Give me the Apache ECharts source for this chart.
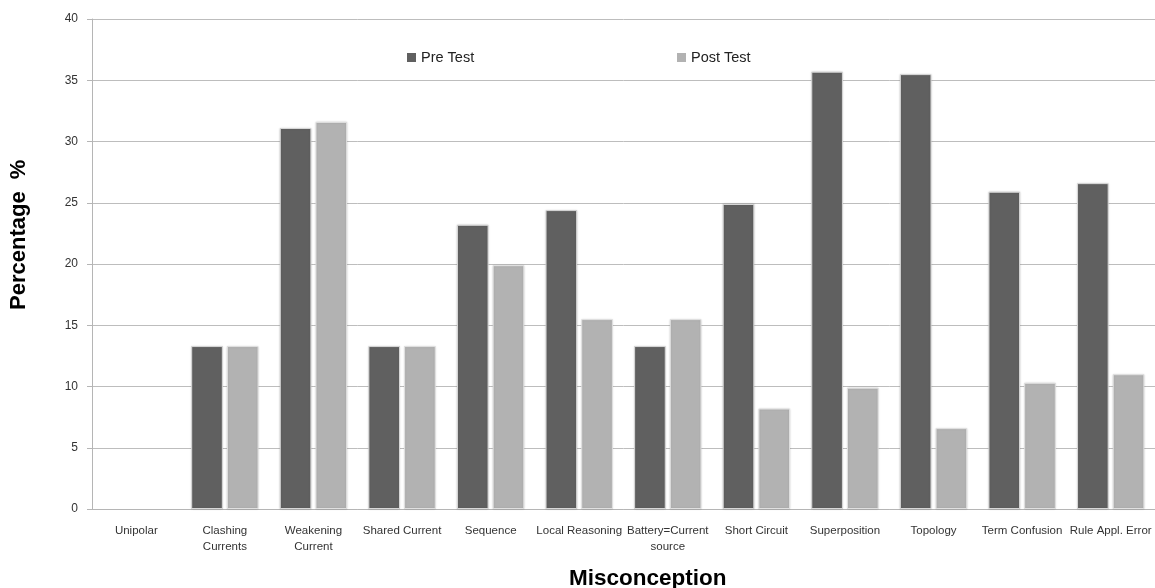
<!DOCTYPE html>
<html>
<head>
<meta charset="utf-8">
<script src="https://cdn.jsdelivr.net/npm/echarts@6/dist/echarts.min.js"></script>
<style>
html,body{margin:0;padding:0;background:#fff;}
#chart{width:1155px;height:588px;}
</style>
</head>
<body>
<div id="chart"></div>
<script>
const categories = ['Unipolar', 'Clashing\nCurrents', 'Weakening\nCurrent', 'Shared Current', 'Sequence', 'Local Reasoning', 'Battery=Current\nsource', 'Short Circuit', 'Superposition', 'Topology', 'Term Confusion', 'Rule Appl. Error'];
const preTest = [0, 13.3, 31.1, 13.3, 23.2, 24.4, 13.3, 24.9, 35.7, 35.5, 25.9, 26.6];
const postTest = [0, 13.3, 31.6, 13.3, 19.9, 15.5, 15.5, 8.2, 9.9, 6.6, 10.3, 11.0];
const yTicks = { min: 0, max: 40, interval: 5 };

function toItems(arr) {
  return arr.map(v => v === 0 ? { value: v, itemStyle: { borderWidth: 0, shadowBlur: 0 } } : v);
}

const chart = echarts.init(document.getElementById('chart'));
const font = '"Liberation Sans", "Open Sans", sans-serif';
const legendText = { fontFamily: font, fontSize: 14.5, color: '#222' };
chart.setOption({
  animation: false,
  backgroundColor: '#fff',
  grid: { left: 92, right: 0, top: 19, bottom: 79, containLabel: false },
  legend: [
    { data: ['Pre Test'], left: 402, top: 45, icon: 'rect', itemWidth: 9, itemHeight: 9, itemGap: 6, itemStyle: { borderWidth: 0, shadowBlur: 0 }, textStyle: legendText },
    { data: ['Post Test'], left: 672, top: 45, icon: 'rect', itemWidth: 9, itemHeight: 9, itemGap: 6, itemStyle: { borderWidth: 0, shadowBlur: 0 }, textStyle: legendText }
  ],
  xAxis: {
    type: 'category',
    data: categories,
    axisLine: { lineStyle: { color: '#b5b5b5', width: 1 } },
    axisTick: { show: false },
    axisLabel: { interval: 0, fontFamily: font, fontSize: 11.5, color: '#333', lineHeight: 16, margin: 14 }
  },
  yAxis: {
    type: 'value',
    min: yTicks.min, max: yTicks.max, interval: yTicks.interval,
    axisLine: { show: true, lineStyle: { color: '#b5b5b5', width: 1 } },
    axisTick: { show: true, length: 5, inside: false, lineStyle: { color: '#b5b5b5' } },
    splitLine: { lineStyle: { color: '#bdbdbd', width: 1 } },
    axisLabel: { fontFamily: font, fontSize: 12, color: '#333', margin: 14 }
  },
  graphic: [
    { type: 'text', x: 8, y: 310, rotation: Math.PI / 2, style: { text: 'Percentage  %', fontFamily: font, fontSize: 22, fontWeight: 'bold', fill: '#000' } },
    { type: 'text', left: 569, top: 567, style: { text: 'Misconception', fontFamily: font, fontSize: 22.5, fontWeight: 'bold', fill: '#000' } }
  ],
  series: [
    {
      name: 'Pre Test', type: 'bar', data: toItems(preTest),
      barGap: '13%', barCategoryGap: '24%',
      itemStyle: { color: '#606060', borderColor: '#d8d8d8', borderWidth: 1, shadowColor: 'rgba(0,0,0,0.15)', shadowBlur: 2 }
    },
    {
      name: 'Post Test', type: 'bar', data: toItems(postTest),
      barGap: '13%', barCategoryGap: '24%',
      itemStyle: { color: '#b2b2b2', borderColor: '#e0e0e0', borderWidth: 1, shadowColor: 'rgba(0,0,0,0.12)', shadowBlur: 2 }
    }
  ]
});
</script>
</body>
</html>
